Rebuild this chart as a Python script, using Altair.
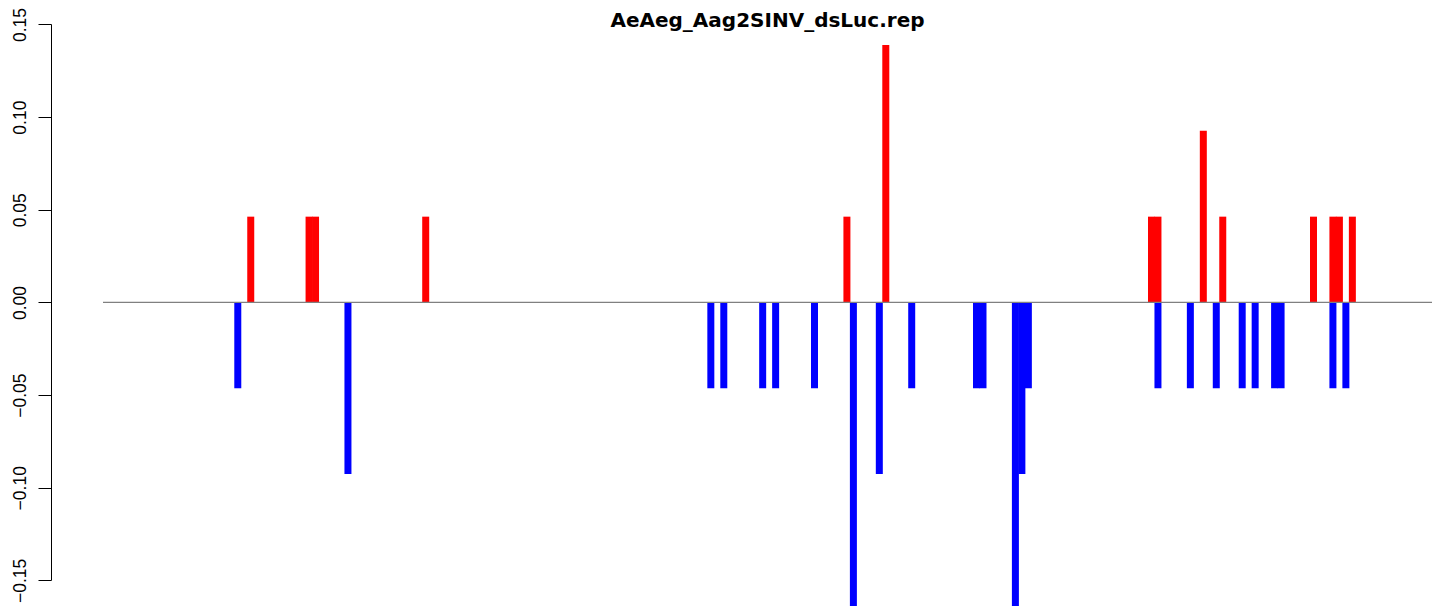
import altair as alt
import pandas as pd

title_text = "AeAeg_Aag2SINV_dsLuc.rep"

# position index of each bar (same grid for both strands)
red_pos = [2, 11, 12, 29, 94, 100, 141, 142, 149, 152, 166, 169, 170, 172]
red_val = [0.0463, 0.0463, 0.0463, 0.0463, 0.0463, 0.1389, 0.0463, 0.0463,
           0.0926, 0.0463, 0.0463, 0.0463, 0.0463, 0.0463]

blue_pos = [0, 17, 73, 75, 81, 83, 89, 95, 99, 104, 114, 115, 120, 121, 122,
            142, 147, 151, 155, 157, 160, 161, 169, 171]
blue_val = [-0.0463, -0.0926, -0.0463, -0.0463, -0.0463, -0.0463, -0.0463,
            -0.1852, -0.0926, -0.0463, -0.0463, -0.0463, -0.1852, -0.0926,
            -0.0463, -0.0463, -0.0463, -0.0463, -0.0463, -0.0463, -0.0463,
            -0.0463, -0.0463, -0.0463]

y_ticks = [-0.15, -0.10, -0.05, 0.00, 0.05, 0.10, 0.15]

W, H = 1329, 598
xs = alt.Scale(domain=[-20.8, 184.29], nice=False, zero=False, padding=0)
ys = alt.Scale(domain=[-0.1638, 0.1589], nice=False, zero=False, padding=0)

df = pd.DataFrame({
    "pos": red_pos + blue_pos,
    "val": red_val + blue_val,
    "base": [0.0] * (len(red_pos) + len(blue_pos)),
    "strand": ["+"] * len(red_pos) + ["-"] * len(blue_pos),
})

bars = alt.Chart(df).mark_bar(size=7, clip=True).encode(
    x=alt.X("pos:Q", scale=xs, axis=None),
    y=alt.Y(
        "val:Q",
        scale=ys,
        axis=alt.Axis(
            values=y_ticks, format=".2f", domain=False, grid=False, offset=52,
            tickSize=13, tickColor="black", tickWidth=1,
            labelAngle=270, labelAlign="center", labelBaseline="alphabetic",
            labelPadding=13, labelFont="Liberation Sans", labelFontSize=17.5,
            labelColor="black", title=None,
        ),
    ),
    y2="base:Q",
    color=alt.Color("strand:N",
                    scale=alt.Scale(domain=["+", "-"], range=["#ff0000", "#0000ff"]),
                    legend=None),
)

zero_line = alt.Chart(pd.DataFrame({"z": [0.0]})).mark_rule(
    color="#808080", strokeWidth=1.3
).encode(y=alt.Y("z:Q", scale=ys))

axis_line = alt.Chart(pd.DataFrame({"lo": [y_ticks[0]], "hi": [y_ticks[-1]]})).mark_rule(
    color="black", strokeWidth=1
).encode(
    x=alt.value(-51.5),
    y=alt.Y("lo:Q", scale=ys),
    y2="hi:Q",
)

title = alt.Chart(pd.DataFrame({"t": [title_text]})).mark_text(
    font="DejaVu Sans", fontWeight="bold", fontSize=20, align="center",
    baseline="alphabetic", color="black"
).encode(text="t:N", x=alt.value(W / 2), y=alt.value(19))

chart = alt.layer(bars, zero_line, axis_line, title).properties(
    width=W, height=H,
    autosize=alt.AutoSizeParams(type="none"),
    padding={"left": 95, "top": 0, "right": 4, "bottom": 0},
).configure_view(stroke=None)

chart.save("out.html", embed_options={"renderer": "svg", "actions": False})
